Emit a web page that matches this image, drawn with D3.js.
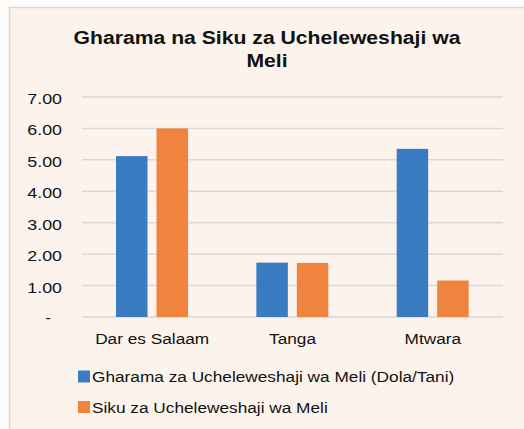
<!DOCTYPE html>
<html>
<head>
<meta charset="utf-8">
<script src="https://cdn.jsdelivr.net/npm/d3@7"></script>
<style>
  body { margin: 0; background: #fdfcfa; }
  text { font-family: "Liberation Sans", Arial, sans-serif; fill: #111; }
</style>
</head>
<body>
<svg id="chart" width="524" height="429"></svg>
<script>
// chart values
var categories = ["Dar es Salaam", "Tanga", "Mtwara"];
var seriesNames = ["Gharama za Ucheleweshaji wa Meli (Dola/Tani)", "Siku za Ucheleweshaji wa Meli"];
var gharama = [5.12, 1.73, 5.35];
var siku = [6.00, 1.72, 1.16];
var yTicks = [0, 1, 2, 3, 4, 5, 6, 7];
var colors = ["#3a7cc1", "#f0843f"];

var svg = d3.select("#chart");

// frame
svg.append("rect").attr("x", 9.5).attr("y", 7.5).attr("width", 530).attr("height", 430)
    .attr("fill", "#fcf4ec").attr("stroke", "#d6d6d6").attr("stroke-width", 1.5);

// text in the picture looks a bit wide, so stretch it
function wideText(g, x, y, str, anchor, size, weight, stretch) {
    return g.append("text")
        .attr("transform", "translate(" + x + "," + y + ") scale(" + (stretch || 1.15) + ",1)")
        .attr("text-anchor", anchor)
        .style("font-size", size + "px")
        .style("font-weight", weight || "normal")
        .text(str);
}

// title
wideText(svg, 267, 44, "Gharama na Siku za Ucheleweshaji wa", "middle", 17.5, "bold", 1.21);
wideText(svg, 267, 67, "Meli", "middle", 17.5, "bold", 1.21);

var x0 = d3.scaleBand().domain(categories).range([82, 503]).padding(0);
var x1 = d3.scaleBand().domain([0, 1]).range([34, 106]).paddingInner(0.222);
var y = d3.scaleLinear().domain([0, 7]).range([317, 97]);

// grid
svg.append("g").selectAll("line").data(yTicks).join("line")
    .attr("x1", 82).attr("x2", 503)
    .attr("y1", function (d) { return y(d); })
    .attr("y2", function (d) { return y(d); })
    .attr("stroke", "#d9d9d9").attr("stroke-width", 1.5);

// y labels
var yl = svg.append("g");
yTicks.forEach(function (t) {
    if (t === 0) {
        wideText(yl, 51, y(t) + 5.5, "-", "end", 15);
    } else {
        wideText(yl, 62, y(t) + 7, d3.format(".2f")(t), "end", 15.5);
    }
});

// bars
var rows = categories.map(function (c, i) { return { cat: c, vals: [gharama[i], siku[i]] }; });
var groups = svg.append("g").selectAll("g").data(rows).join("g")
    .attr("transform", function (d) { return "translate(" + x0(d.cat) + ",0)"; });
groups.selectAll("rect").data(function (d) { return d.vals; }).join("rect")
    .attr("x", function (d, i) { return x1(i); })
    .attr("width", x1.bandwidth())
    .attr("y", function (d) { return y(d); })
    .attr("height", function (d) { return y(0) - y(d); })
    .attr("fill", function (d, i) { return colors[i]; });

// category labels
var xl = svg.append("g");
categories.forEach(function (c) {
    wideText(xl, x0(c) + x0.bandwidth() / 2, 344, c, "middle", 15);
});

// legend
var lg = svg.append("g");
seriesNames.forEach(function (s, i) {
    var ly = 376.5 + i * 30.5;
    lg.append("rect").attr("x", 78).attr("y", ly - 6).attr("width", 12).attr("height", 12).attr("fill", colors[i]);
    wideText(lg, 92, ly + 5.5, s, "start", 15);
});
</script>
</body>
</html>
